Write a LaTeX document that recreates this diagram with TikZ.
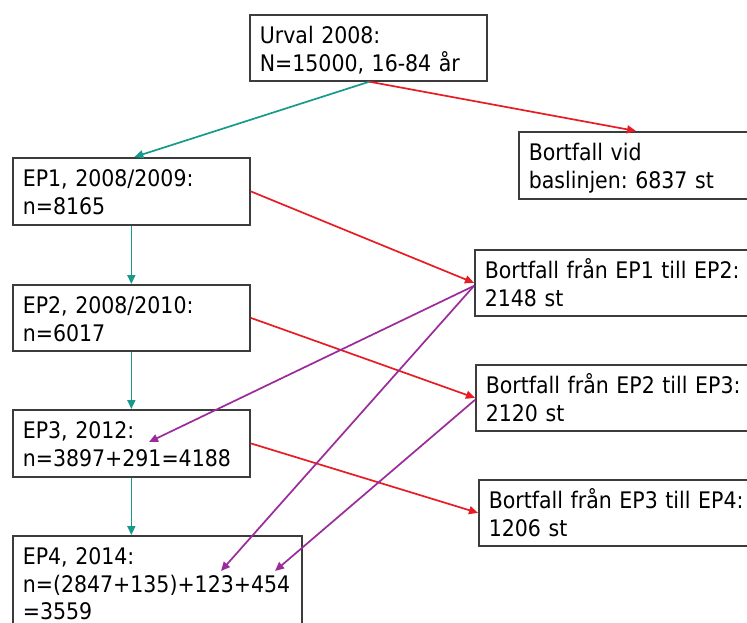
\documentclass[tikz,border=0pt]{standalone}
\usepackage{fontspec}
\setmainfont{DejaVu Sans Condensed}
\usetikzlibrary{arrows.meta,calc}
\definecolor{tealc}{HTML}{179A8C}
\definecolor{redc}{HTML}{E81C24}
\definecolor{purc}{HTML}{9B2A9A}
\definecolor{boxc}{HTML}{3C3C3C}
\frenchspacing
\tikzset{
  box/.style={draw=boxc, line width=1.7pt, anchor=north west, inner xsep=10pt, inner ysep=0pt,
    align=left, text height=29pt, text depth=37pt,
    font=\fontsize{22.8pt}{27.5pt}\selectfont},
  tarr/.style={draw=tealc, line width=1.7pt, -{Triangle[length=9pt,width=8pt]}},
  rarr/.style={draw=redc, line width=1.7pt, -{Triangle[length=9pt,width=8pt]}},
  parr/.style={draw=purc, line width=1.7pt, -{Triangle[length=9pt,width=8pt]}},
}
\begin{document}
\begin{tikzpicture}[x=1pt,y=-1pt]
\useasboundingbox (0,0) rectangle (747,623);
\clip (0,0) rectangle (747,623);
\fill[white] (0,0) rectangle (747,623);
\node[box, text width=217pt] (urval) at (249,14) {Urval 2008:\\N=15000, 16-84 år};
\node[box, text width=280pt, text depth=38pt] (vid) at (518,131) {Bortfall vid\\baslinjen: 6837 st};
\node[box, text width=217pt, text depth=38pt] (ep1) at (12,157) {EP1, 2008/2009:\\n=8165};
\node[box, text width=280pt] (b12) at (474,249) {Bortfall från EP1 till EP2:\\2148 st};
\node[box, text width=217pt] (ep2) at (12,284) {EP2, 2008/2010:\\n=6017};
\node[box, text width=280pt] (b23) at (475,364) {Bortfall från EP2 till EP3:\\2120 st};
\node[box, text width=217pt, text depth=38pt] (ep3) at (12,409) {EP3, 2012:\\n=3897+291=4188};
\node[box, text width=280pt] (b34) at (478,479) {Bortfall från EP3 till EP4:\\1206 st};
\node[box, text width=269pt, text depth=120pt] (ep4) at (12,535) {EP4, 2014:\\n=(2847+135)+123+454\\=3559};
\coordinate (p3) at (149,442);
\coordinate (p4a) at (221,571);
\coordinate (p4b) at (275,571);
\draw[tarr] ($(urval.south)+(1,0)$) -- ($(ep1.north)+(3,0)$);
\draw[rarr] ($(urval.south)+(1,0)$) -- ($(vid.north west)+(118,0)$);
\draw[rarr] (ep1.east) -- (b12.west);
\draw[rarr] (ep2.east) -- (b23.west);
\draw[rarr] (ep3.east) -- (b34.west);
\draw[tarr] (ep1.south) -- (ep2.north);
\draw[tarr] (ep2.south) -- (ep3.north);
\draw[tarr] (ep3.south) -- (ep3.south |- ep4.north);
\draw[parr] ($(b12.west)+(0,3)$) -- (p3);
\draw[parr] ($(b12.west)+(0,3)$) -- (p4a);
\draw[parr] ($(b23.west)+(0,2)$) -- (p4b);
\end{tikzpicture}
\end{document}
